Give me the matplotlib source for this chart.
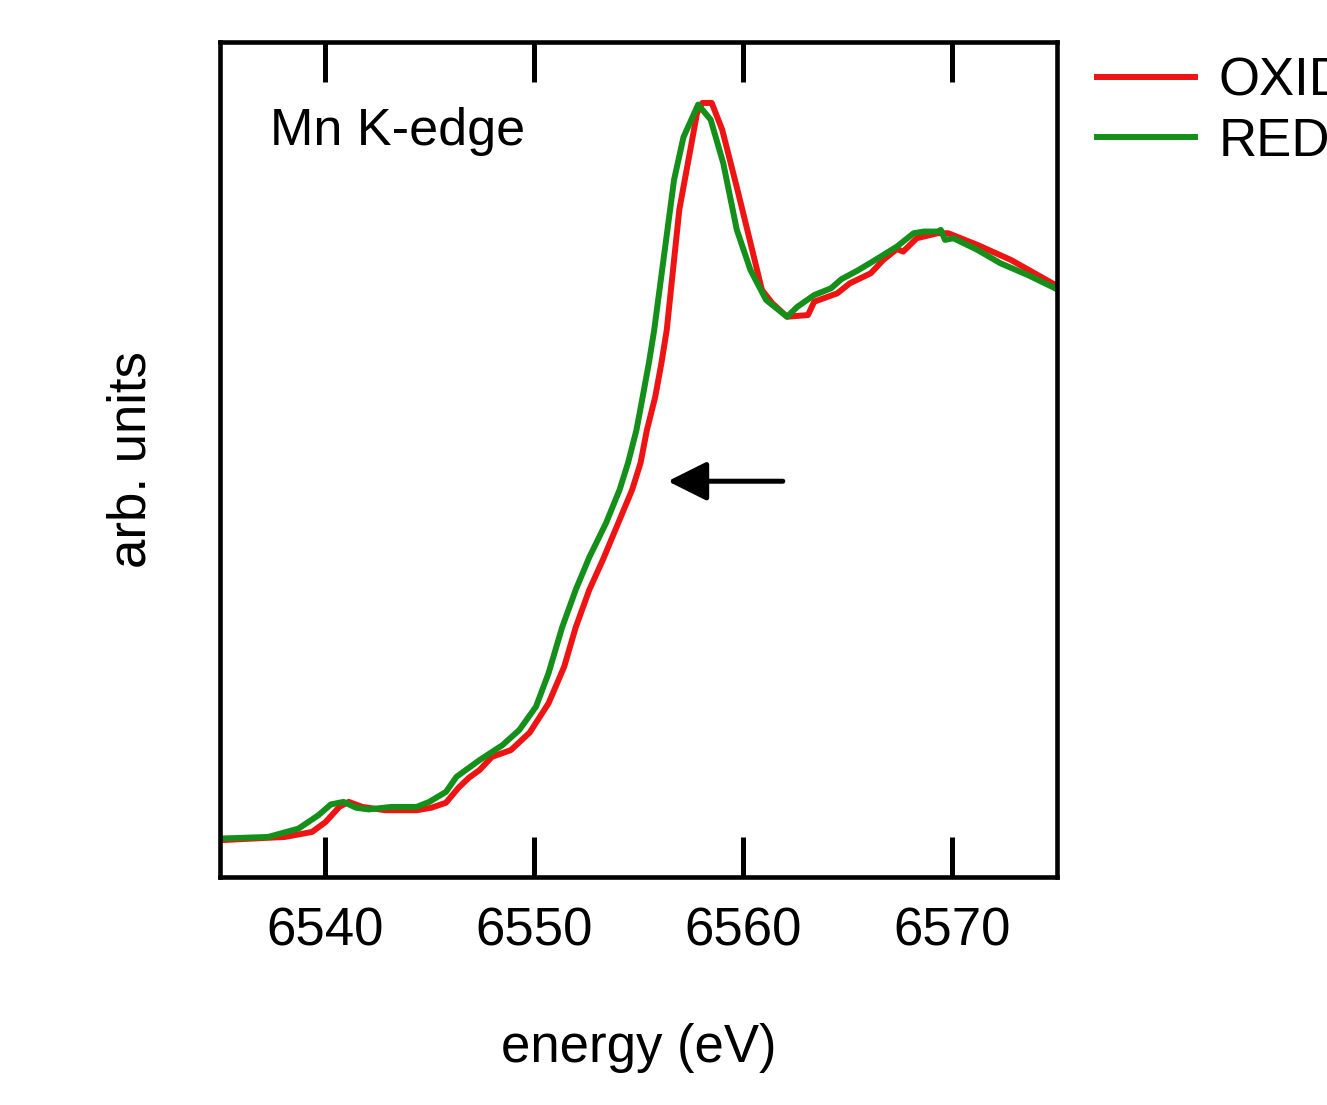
import numpy as np
import matplotlib.pyplot as plt

plt.rcParams['font.family'] = ['Liberation Sans', 'DejaVu Sans']

# Mn K-edge XANES (energy in eV, normalised absorption)
e_oxid = [6534.9, 6538.1, 6539.4, 6540.05, 6540.7, 6541.15, 6541.8, 6542.9,
          6544.4, 6545.1, 6545.8, 6546.4, 6546.9, 6547.4, 6548.0, 6548.9,
          6549.8, 6550.7, 6551.45, 6552.0, 6552.65, 6553.3, 6554.1, 6554.7,
          6555.1, 6555.4, 6555.8, 6556.1, 6556.35, 6556.95, 6557.8, 6558.05,
          6558.5, 6559.0, 6559.7, 6560.2, 6560.9, 6561.4, 6562.1, 6563.1,
          6563.4, 6564.5, 6565.1, 6566.1, 6566.7, 6567.35, 6567.65, 6568.3,
          6569.3, 6569.8, 6571.2, 6572.8, 6575.0]
mu_oxid = [0.044, 0.048, 0.054, 0.066, 0.084, 0.090, 0.084, 0.080,
           0.080, 0.083, 0.089, 0.107, 0.119, 0.128, 0.144, 0.152,
           0.173, 0.208, 0.252, 0.299, 0.344, 0.380, 0.428, 0.464,
           0.496, 0.535, 0.575, 0.616, 0.655, 0.799, 0.915, 0.927,
           0.927, 0.895, 0.826, 0.775, 0.703, 0.687, 0.671, 0.673,
           0.689, 0.699, 0.711, 0.723, 0.739, 0.752, 0.749, 0.765,
           0.771, 0.771, 0.757, 0.739, 0.708]

e_red = [6534.9, 6537.3, 6538.75, 6539.7, 6540.3, 6540.9, 6541.5, 6542.1,
         6543.2, 6544.4, 6545.0, 6545.8, 6546.3, 6547.4, 6548.5, 6549.3,
         6550.1, 6550.7, 6551.35, 6552.0, 6552.65, 6553.45, 6554.1, 6554.5,
         6554.9, 6555.2, 6555.5, 6555.75, 6556.7, 6557.15, 6557.85, 6558.45,
         6559.05, 6559.7, 6560.35, 6561.1, 6562.1, 6562.6, 6563.4, 6564.2,
         6564.7, 6565.45, 6566.25, 6567.35, 6568.15, 6568.65, 6569.3, 6569.45,
         6569.65, 6570.05, 6571.2, 6572.3, 6573.6, 6575.0]
mu_red = [0.046, 0.048, 0.058, 0.074, 0.087, 0.090, 0.083, 0.081,
          0.084, 0.084, 0.090, 0.102, 0.120, 0.140, 0.158, 0.176,
          0.204, 0.244, 0.299, 0.344, 0.383, 0.424, 0.464, 0.496,
          0.535, 0.575, 0.616, 0.655, 0.835, 0.886, 0.925, 0.907,
          0.855, 0.775, 0.727, 0.691, 0.671, 0.683, 0.697, 0.705,
          0.716, 0.726, 0.738, 0.755, 0.771, 0.773, 0.773, 0.775,
          0.763, 0.765, 0.751, 0.735, 0.721, 0.704]

xticks = [6540, 6550, 6560, 6570]

fig = plt.figure(figsize=(13.27, 11.05), dpi=100)
ax = fig.add_axes([0.1658, 0.2063, 0.6307, 0.7557])

ax.plot(e_oxid, mu_oxid, color='#ee1414', lw=4.3, label='OXID')
ax.plot(e_red, mu_red, color='#14901a', lw=4.3, label='RED')

ax.set_xlim(6535, 6575)
ax.set_ylim(0, 1)
ax.set_xticks(xticks)
ax.set_yticks([])
ax.tick_params(axis='x', direction='in', length=29, width=3.6, top=True,
               labelsize=38, pad=21)
for s in ax.spines.values():
    s.set_linewidth(3.3)

ax.set_xlabel('energy (eV)', fontsize=38, labelpad=48)
ax.set_ylabel('arb. units', fontsize=38, labelpad=46)

ax.text(0.06, 0.893, 'Mn K-edge', transform=ax.transAxes, fontsize=37.5,
        va='center', ha='left')

# shift of the edge towards lower energy
ax.annotate('', xy=(6556.4, 0.474), xytext=(6561.9, 0.474),
            arrowprops=dict(arrowstyle='-|>,head_length=2.4,head_width=1.2',
                            color='black', lw=3.6, shrinkA=0, shrinkB=0))

fig.legend(loc='upper left', bbox_to_anchor=(0.827, 0.949), frameon=False,
           fontsize=38, handlelength=1.85, handletextpad=0.45,
           labelspacing=0.2, borderpad=0, borderaxespad=0)

fig.savefig('out.png', dpi=100)
